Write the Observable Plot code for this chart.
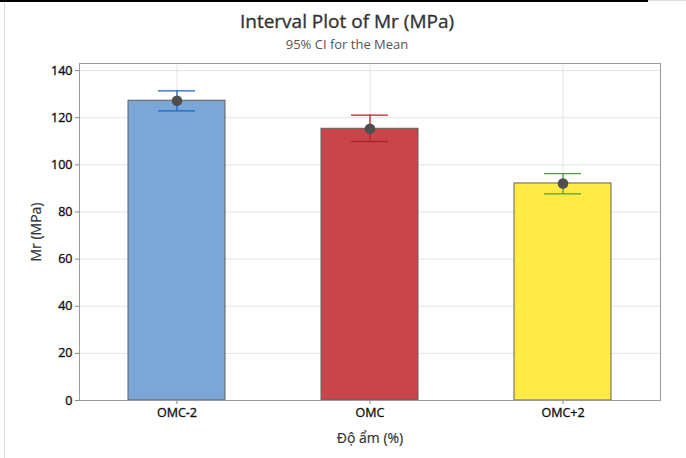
<!DOCTYPE html>
<html>
<head>
<meta charset="utf-8">
<script src="https://cdn.jsdelivr.net/npm/d3@7"></script>
<script src="https://cdn.jsdelivr.net/npm/@observablehq/plot@0.6"></script>
<style>
  html, body { margin: 0; padding: 0; background: #fff; }
  #wrap { position: relative; width: 686px; height: 458px; overflow: hidden; font-family: "Open Sans", "Noto Sans", sans-serif; }
  #topline { position: absolute; left: 0; top: 0; width: 648px; height: 2px; background: #000; }
  #topline2 { position: absolute; left: 648px; top: 0; width: 38px; height: 1px; background: #ddd; }
  #leftline { position: absolute; left: 4px; top: 2px; width: 1px; height: 456px; background: #ddd; }
  #title { position: absolute; left: 8px; width: 678px; top: 8px; text-align: center; font-size: 19px; color: #333; -webkit-text-stroke: 0.35px #333; }
  #subtitle { position: absolute; left: 8px; width: 678px; top: 35px; text-align: center; font-size: 13px; color: #555; }
  #chart { position: absolute; left: 0; top: 0; }
</style>
</head>
<body>
<div id="wrap">
  <div id="chart"></div>
  <div id="topline"></div>
  <div id="topline2"></div>
  <div id="leftline"></div>
  <div id="title">Interval Plot of Mr (MPa)</div>
  <div id="subtitle">95% CI for the Mean</div>
</div>
<script>
const categories = ["OMC-2", "OMC", "OMC+2"];
const means = [127.2, 115.3, 92.1];
const lower = [122.9, 109.9, 87.7];
const upper = [131.4, 121.1, 96.3];
const barColors = ["#7ba6d8", "#c8464a", "#ffea46"];
const ciColors = ["#1a66c6", "#b0222e", "#4c9f3c"];
const yTicks = [0, 20, 40, 60, 80, 100, 120, 140];

const data = categories.map((c, i) => ({
  cat: c, mean: means[i], lo: lower[i], hi: upper[i], fill: barColors[i], ci: ciColors[i]
}));

const plot = Plot.plot({
  width: 686,
  height: 458,
  marginTop: 63,
  marginBottom: 58,
  marginLeft: 79,
  marginRight: 26,
  style: { fontFamily: "'Open Sans', 'Noto Sans', sans-serif", fontSize: "12px", color: "#222", background: "transparent" },
  x: { domain: categories, paddingInner: 0.495, paddingOuter: 0.2475, label: null },
  y: { domain: [0, 143], label: null },
  marks: [
    Plot.gridY(yTicks, { stroke: "#e4e4e4", strokeOpacity: 1 }),
    Plot.gridX(categories, { stroke: "#e4e4e4", strokeOpacity: 1 }),
    Plot.barY(data, { x: "cat", y: "mean", fill: "fill", stroke: "#606060", strokeWidth: 1 }),
    Plot.ruleX(data, { x: "cat", y1: "lo", y2: "hi", stroke: "ci", strokeWidth: 1.3 }),
    Plot.tickY(data, { x: "cat", y: "hi", stroke: "ci", strokeWidth: 1.3, insetLeft: 30, insetRight: 30 }),
    Plot.tickY(data, { x: "cat", y: "lo", stroke: "ci", strokeWidth: 1.3, insetLeft: 30, insetRight: 30 }),
    Plot.dot(data, { x: "cat", y: "mean", r: 5.3, fill: "#4f4f4f", stroke: "none" }),
    Plot.frame({ stroke: "#9a9a9a" }),
    Plot.axisY({ ticks: yTicks, tickSize: 4, tickPadding: 3, stroke: "#888", fill: "#111", fontSize: 12.5,
      label: "Mr (MPa)", labelAnchor: "center", labelArrow: "none", labelOffset: 48 }),
    Plot.axisX({ tickSize: 4, tickPadding: 4, stroke: "#888", fill: "#111", fontSize: 12.5,
      label: "Độ ẩm (%)", labelAnchor: "center", labelArrow: "none", labelOffset: 42 })
  ]
});
document.getElementById("chart").appendChild(plot);

// slightly heavier tick labels
plot.querySelectorAll("[aria-label='y-axis tick label'] text, [aria-label='x-axis tick label'] text").forEach(t => {
  t.setAttribute("stroke", "#111");
  t.setAttribute("stroke-width", "0.35");
});
// style axis labels
plot.querySelectorAll("[aria-label='y-axis label'] text, [aria-label='x-axis label'] text").forEach(t => {
  t.setAttribute("font-size", "14");
  t.setAttribute("fill", "#333");
  t.setAttribute("stroke", "#333");
  t.setAttribute("stroke-width", "0.2");
});
</script>
</body>
</html>
